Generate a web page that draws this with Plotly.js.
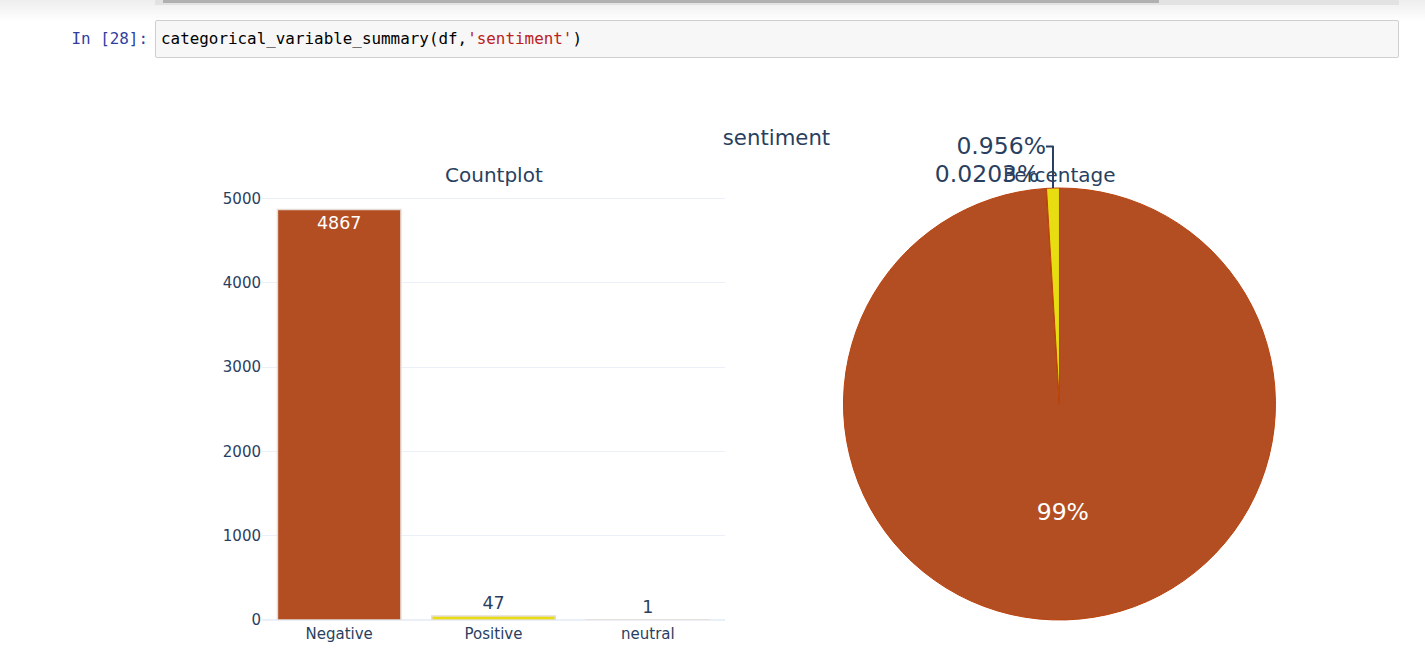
<!DOCTYPE html>
<html>
<head>
<meta charset="utf-8">
<script src="https://cdn.plot.ly/plotly-3.0.1.min.js"></script>
<style>
  html, body { margin: 0; padding: 0; width: 1425px; height: 654px; overflow: hidden; background: #fff; }
  #topshade { position: absolute; left: 0; top: 0; width: 1425px; height: 22px;
    background: linear-gradient(#eeeeee, #ffffff); }
  #scrolltrack { position: absolute; left: 155px; top: 0; width: 1244px; height: 5px; background: #e2e2e2; }
  #scrollthumb { position: absolute; left: 163px; top: 0; width: 996px; height: 3px; background: #b0b0b0; }
  #prompt { position: absolute; right: 1277px; top: 29px; font-family: "DejaVu Sans Mono", "Liberation Mono", monospace;
    font-size: 15.9px; color: #303F9F; line-height: 20px; white-space: pre; }
  #codebox { position: absolute; left: 155px; top: 20px; width: 1242px; height: 36px;
    background: #f7f7f7; border: 1px solid #cfcfcf; border-radius: 2px; }
  #code { position: absolute; left: 5px; top: 8px; font-family: "DejaVu Sans Mono", "Liberation Mono", monospace;
    font-size: 15.9px; color: #000; line-height: 20px; white-space: pre; }
  #code .str { color: #BA2121; }
  #plot { position: absolute; left: 0; top: 61px; width: 1425px; height: 593px; }
</style>
</head>
<body>
<div id="topshade"></div>
<div id="scrolltrack"></div>
<div id="scrollthumb"></div>
<div id="prompt">In [28]:</div>
<div id="codebox"><div id="code">categorical_variable_summary(df,<span class="str">'sentiment'</span>)</div></div>
<div id="plot"></div>
<script>
// ---- data ----
const categories = ['Negative', 'Positive', 'neutral'];
const counts = [4867, 47, 1];
const colors = ['#b34e22', '#e8dd10', '#3fdc20'];
const pieOrder = [0, 2, 1];   // slice order around the pie (clockwise from 12 o'clock)
const yTicks = [0, 1000, 2000, 3000, 4000, 5000];
const chartTitle = 'sentiment';
const subTitles = ['Countplot', 'Percentage'];

const FONT = 'Verdana, "DejaVu Sans", sans-serif';
const TXT = '#2a3f5f';

const bar = {
  type: 'bar',
  x: categories,
  y: counts,
  text: counts.map(String),
  textposition: 'auto',
  textfont: { size: 17.5, family: FONT },
  marker: { color: colors, line: { color: '#e6dcd6', width: 1.5 } },
  xaxis: 'x', yaxis: 'y',
  showlegend: false,
  hoverinfo: 'x+y'
};

const pie = {
  type: 'pie',
  labels: pieOrder.map(i => categories[i]),
  values: pieOrder.map(i => counts[i]),
  sort: false,
  direction: 'clockwise',
  textinfo: 'percent',
  textposition: 'auto',
  textfont: { size: 23.5, family: FONT },
  marker: { colors: pieOrder.map(i => colors[i]), line: { color: '#bb420c', width: 1 } },
  domain: { x: [0.55, 1], y: [0, 1] },
  showlegend: false
};

const layout = {
  width: 1425, height: 593,
  margin: { l: 262, r: 134, t: 127, b: 34 },
  paper_bgcolor: 'rgba(0,0,0,0)',
  plot_bgcolor: '#fff',
  font: { family: FONT, size: 15, color: TXT },
  title: { text: chartTitle, font: { size: 21.25, family: FONT, color: TXT },
           x: 0.5, xref: 'paper', y: 1 - 76.5 / 593, yref: 'container', yanchor: 'middle' },
  xaxis: { domain: [0, 0.45], showgrid: false, ticks: '', tickfont: { size: 15 },
           linecolor: '#EBF0F8', zeroline: false },
  yaxis: { domain: [0, 1], gridcolor: '#EBF0F8', zerolinecolor: '#EBF0F8', zerolinewidth: 2,
           tickvals: yTicks, ticktext: yTicks.map(String), ticks: '', tickfont: { size: 15 } },
  annotations: [
    { text: subTitles[0], x: 0.225, y: 1, xref: 'paper', yref: 'paper', xanchor: 'center', yanchor: 'bottom',
      yshift: -1, showarrow: false, font: { size: 20, family: FONT, color: TXT } },
    { text: subTitles[1], x: 0.775, y: 1, xref: 'paper', yref: 'paper', xanchor: 'center', yanchor: 'bottom',
      yshift: -1, showarrow: false, font: { size: 20, family: FONT, color: TXT } }
  ]
};

Plotly.newPlot('plot', [bar, pie], layout, { displayModeBar: false, responsive: false });
</script>
</body>
</html>
